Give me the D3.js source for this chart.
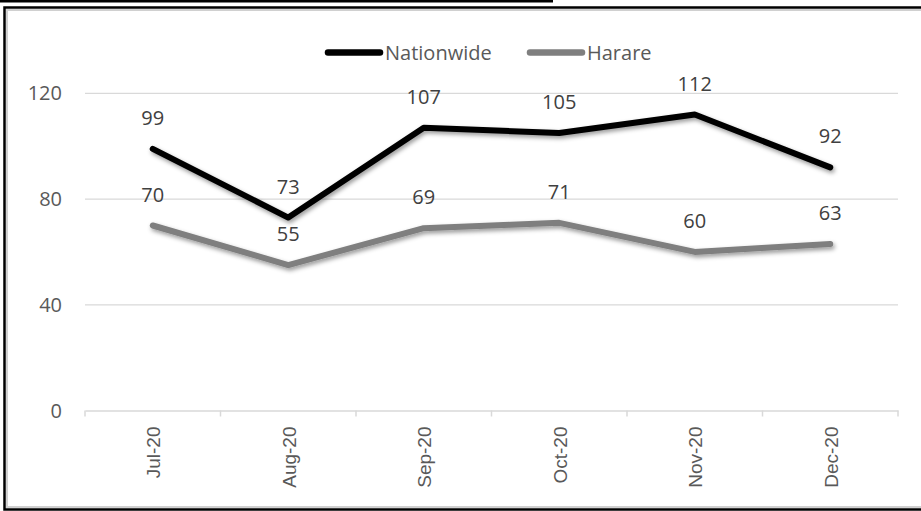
<!DOCTYPE html>
<html>
<head>
<meta charset="utf-8">
<script src="https://cdn.jsdelivr.net/npm/d3@7"></script>
<style>
  body { margin: 0; background: #fff; }
  svg { display: block; }
</style>
</head>
<body>
<div id="chart"></div>
<script>
// data
const months = ["Jul-20", "Aug-20", "Sep-20", "Oct-20", "Nov-20", "Dec-20"];
const nationwide = [99, 73, 107, 105, 112, 92];
const harare = [70, 55, 69, 71, 60, 63];
const yTicks = [0, 40, 80, 120];
const seriesNames = ["Nationwide", "Harare"];
const seriesColors = ["#000000", "#7f7f7f"];

const W = 921, H = 511;
const plot = { left: 85, right: 898, top: 40.5, bottom: 410.5 };

const svg = d3.select("#chart")
  .append("svg")
  .attr("width", W)
  .attr("height", H);

// shadow filter for lines
const defs = svg.append("defs");
const f = defs.append("filter")
  .attr("id", "shadow")
  .attr("x", "-10%").attr("y", "-30%")
  .attr("width", "120%").attr("height", "160%");
f.append("feDropShadow")
  .attr("dx", 1.5).attr("dy", 2.5)
  .attr("stdDeviation", 2)
  .attr("flood-color", "#000")
  .attr("flood-opacity", 0.4);

// outer frame
svg.append("line")
  .attr("x1", 0).attr("x2", 553)
  .attr("y1", 1).attr("y2", 1)
  .attr("stroke", "#000").attr("stroke-width", 3);

svg.append("path")
  .attr("d", `M${W + 5},7.5 H4.5 V509.5 H${W + 5}`)
  .attr("fill", "none")
  .attr("stroke", "#000").attr("stroke-width", 2.5);
svg.append("path")
  .attr("d", `M${W + 5},10 H7 V507 H${W + 5}`)
  .attr("fill", "none")
  .attr("stroke", "#d0d0d0").attr("stroke-width", 2);

// scales
const x = d3.scaleBand()
  .domain(months)
  .range([plot.left, plot.right]);

const y = d3.scaleLinear()
  .domain([0, 140])
  .range([plot.bottom, plot.top]);

// gridlines
svg.append("g")
  .selectAll("line")
  .data(yTicks.filter(d => d > 0))
  .join("line")
  .attr("x1", plot.left).attr("x2", plot.right)
  .attr("y1", d => y(d)).attr("y2", d => y(d))
  .attr("stroke", "#d9d9d9")
  .attr("stroke-width", 1.3);

// x axis
const xAxis = svg.append("g")
  .attr("transform", `translate(0,${plot.bottom})`)
  .call(d3.axisBottom(x).tickSize(0).tickFormat(""));
xAxis.select(".domain").attr("stroke", "#d9d9d9").attr("stroke-width", 1.5);

// axis ticks between categories
svg.append("g")
  .selectAll("line")
  .data(months.concat([null]))
  .join("line")
  .attr("x1", (d, i) => i < months.length ? x(d) : x.range()[1])
  .attr("x2", (d, i) => i < months.length ? x(d) : x.range()[1])
  .attr("y1", plot.bottom).attr("y2", plot.bottom + 6)
  .attr("stroke", "#d9d9d9").attr("stroke-width", 1.5);

// x labels
svg.append("g")
  .selectAll("text")
  .data(months)
  .join("text")
  .attr("transform", d => `translate(${x(d) + x.bandwidth() / 2 + 7.5},${plot.bottom + 16}) rotate(-90)`)
  .attr("text-anchor", "end")
  .attr("font-family", "Liberation Sans, Arial, sans-serif")
  .attr("font-size", 19)
  .attr("fill", "#595959")
  .text(d => d);

// y labels
svg.append("g")
  .selectAll("text")
  .data(yTicks)
  .join("text")
  .attr("x", 62)
  .attr("y", d => y(d))
  .attr("dy", "0.35em")
  .attr("text-anchor", "end")
  .attr("font-family", "Open Sans, sans-serif")
  .attr("font-size", 20)
  .attr("fill", "#595959")
  .text(d => d);

// lines
const series = [nationwide, harare];
const line = d3.line()
  .x((d, i) => x(months[i]) + x.bandwidth() / 2)
  .y(d => y(d));

svg.append("g")
  .selectAll("path")
  .data(series)
  .join("path")
  .attr("d", d => line(d))
  .attr("fill", "none")
  .attr("stroke", (d, i) => seriesColors[i])
  .attr("stroke-width", 6)
  .attr("stroke-linecap", "round")
  .attr("stroke-linejoin", "round")
  .attr("filter", "url(#shadow)");

// data labels
series.forEach((s, si) => {
  svg.append("g")
    .selectAll("text")
    .data(s)
    .join("text")
    .attr("x", (d, i) => x(months[i]) + x.bandwidth() / 2)
    .attr("y", d => y(d) - 31)
    .attr("dy", "0.35em")
    .attr("text-anchor", "middle")
    .attr("font-family", "Open Sans, sans-serif")
    .attr("font-size", 20)
    .attr("fill", "#404040")
    .text(d => d);
});

// legend
const legendItems = [
  { name: seriesNames[0], color: seriesColors[0], x: 325 },
  { name: seriesNames[1], color: seriesColors[1], x: 527 }
];
const lg = svg.append("g");
legendItems.forEach(it => {
  lg.append("line")
    .attr("x1", it.x + 3).attr("x2", it.x + 55)
    .attr("y1", 52.5).attr("y2", 52.5)
    .attr("stroke", it.color)
    .attr("stroke-width", 6.5)
    .attr("stroke-linecap", "round");
  lg.append("text")
    .attr("x", it.x + 60)
    .attr("y", 52.5)
    .attr("dy", "0.35em")
    .attr("font-family", "Open Sans, sans-serif")
    .attr("font-size", 20)
    .attr("fill", "#595959")
    .text(it.name);
});
</script>
</body>
</html>
